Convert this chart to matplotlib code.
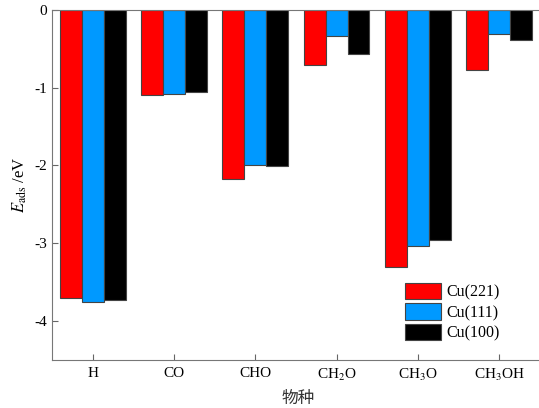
import numpy as np
import matplotlib
matplotlib.use("Agg")
import matplotlib.pyplot as plt

plt.rcParams["font.family"] = ["Liberation Serif", "DejaVu Serif"]
plt.rcParams["mathtext.fontset"] = "stix"

species = ["H", "CO", "CHO", r"CH$_2$O", r"CH$_3$O", r"CH$_3$OH"]
cu221 = [-3.71, -1.09, -2.17, -0.71, -3.31, -0.78]
cu111 = [-3.76, -1.08, -1.99, -0.34, -3.03, -0.31]
cu100 = [-3.73, -1.06, -2.01, -0.57, -2.96, -0.39]
series = {"Cu(221)": cu221, "Cu(111)": cu111, "Cu(100)": cu100}
colors = ["#FF0000", "#0099FF", "#000000"]

fig = plt.figure(figsize=(5.39, 4.08), dpi=100)
ax = fig.add_axes([0.0965, 0.118, 0.905, 0.858])

x = np.arange(len(species))
w = 0.27
for i, (name, vals) in enumerate(series.items()):
    ax.bar(x + (i - 1) * w, vals, width=w, color=colors[i], edgecolor="#444444",
           linewidth=0.8, label=name)

ax.set_xlim(-0.5, 5.5)
ax.set_ylim(-4.5, 0)
ax.set_yticks([0, -1, -2, -3, -4])
ax.set_yticklabels(["0", "-1", "-2", "-3", "-4"])
ax.set_xticks(x)
ax.set_xticklabels(species)
ax.tick_params(direction="in", labelsize=11, color="#666666", length=4)
ax.tick_params(axis="x", pad=5)

for s in ["left", "bottom", "top"]:
    ax.spines[s].set_color("#777777")
ax.spines["right"].set_visible(False)

ax.set_ylabel(r"$E_{\rm ads}$ /eV", fontsize=12)
ax.set_xlabel("物种", fontsize=12, family=["Noto Sans CJK SC", "DejaVu Sans"],
              color="#333333", loc="left")
ax.xaxis.set_label_coords(0.47, -0.085)

ax.legend(loc="lower left", bbox_to_anchor=(0.7, 0.02), frameon=False,
          fontsize=11.5, handlelength=2.3, handleheight=1.2, labelspacing=0.2,
          handletextpad=0.3, borderpad=0.2)

fig.savefig("out.png", dpi=100)
